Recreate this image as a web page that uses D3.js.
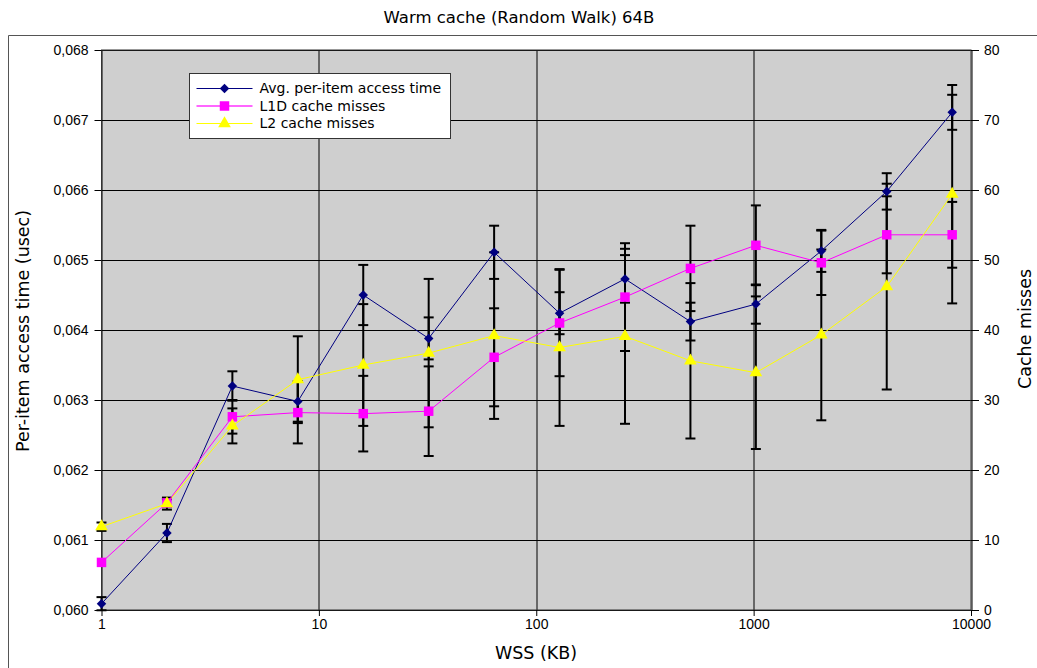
<!DOCTYPE html>
<html>
<head>
<meta charset="utf-8">
<script src="https://cdn.jsdelivr.net/npm/d3@7"></script>
<style>
  body { margin: 0; background: #fff; }
  svg { font-family: "DejaVu Sans", sans-serif; }
  .tick text { font-size: 14px; fill: #000; }
</style>
</head>
<body>
<div id="chart"></div>
<script>
// working set sizes (KB)
var wss = [1, 2, 4, 8, 16, 32, 64, 128, 256, 512, 1024, 2048, 4096, 8192];

// avg. per-item access time (usec), left axis
var avgTime = [0.06009, 0.0611, 0.0632, 0.06298, 0.0645, 0.06388, 0.06511,
  0.06424, 0.06473, 0.06412, 0.06437, 0.06513, 0.06598, 0.06711];
var avgTimeErr = [0.000094, 0.00013, 0.00021, 0.00029, 0.00043, 0.00030, 0.00038,
  0.00030, 0.00034, 0.00027, 0.00028, 0.00030, 0.00026, 0.00025];

// cache misses, right axis
var l1dMisses = [6.8, 15.3, 27.6, 28.2, 28.05, 28.4, 36.1, 41.0, 44.7, 48.8, 52.1, 49.6, 53.6, 53.6];
var l1dErr = [0, 0.5, 2.4, 4.4, 5.4, 6.4, 7.0, 7.6, 7.7, 6.1, 5.7, 4.6, 5.5, 4.7];
var l2Misses = [11.9, 15.2, 26.3, 32.9, 35.0, 36.7, 39.2, 37.5, 39.1, 35.6, 33.9, 39.3, 46.2, 59.4];
var l2Err = [0.6, 0.86, 2.5, 6.2, 8.7, 10.6, 11.9, 11.2, 12.5, 11.1, 10.9, 12.2, 14.7, 15.6];

// tick labels
var xTicks = [1, 10, 100, 1000, 10000];
var leftTicks = [0.060, 0.061, 0.062, 0.063, 0.064, 0.065, 0.066, 0.067, 0.068];
var rightTicks = [0, 10, 20, 30, 40, 50, 60, 70, 80];

var seriesNames = ["Avg. per-item access time", "L1D cache misses", "L2 cache misses"];

var svgWidth = 1037, svgHeight = 668;
var margin = { top: 50, right: 66, bottom: 58, left: 101.5 };
var width = svgWidth - margin.left - margin.right;
var height = svgHeight - margin.top - margin.bottom;

var svg = d3.select("#chart").append("svg")
  .attr("width", svgWidth)
  .attr("height", svgHeight);

// outer frame
svg.append("path")
  .attr("d", "M8.5," + svgHeight + "V35.5H" + svgWidth)
  .attr("fill", "none")
  .attr("stroke", "#555");

svg.append("text")
  .attr("x", 519)
  .attr("y", 23)
  .attr("text-anchor", "middle")
  .style("font-size", "16.5px")
  .text("Warm cache (Random Walk) 64B");

var g = svg.append("g")
  .attr("transform", `translate(${margin.left}, ${margin.top})`);

var x = d3.scaleLog().domain([1, 10000]).range([0, width]);
var yLeft = d3.scaleLinear().domain([0.060, 0.068]).range([height, 0]);
var yRight = d3.scaleLinear().domain([0, 80]).range([height, 0]);

g.append("rect")
  .attr("width", width)
  .attr("height", height)
  .attr("fill", "#cfcfcf");

// grid lines
g.append("g").selectAll("line")
  .data(leftTicks)
  .enter().append("line")
  .attr("x1", 0).attr("x2", width)
  .attr("y1", d => Math.round(yLeft(d)) + 0.5)
  .attr("y2", d => Math.round(yLeft(d)) + 0.5)
  .attr("stroke", "#000");

g.append("g").selectAll("line")
  .data(xTicks)
  .enter().append("line")
  .attr("x1", d => Math.round(x(d)) + 0.5)
  .attr("x2", d => Math.round(x(d)) + 0.5)
  .attr("y1", 0).attr("y2", height)
  .attr("stroke", "#000");

g.append("rect")
  .attr("width", width)
  .attr("height", height)
  .attr("fill", "none")
  .attr("stroke", "#333");

// axes
var fmt = d => d3.format(".3f")(d).replace(".", ",");

g.append("g")
  .call(d3.axisLeft(yLeft).tickValues(leftTicks).tickFormat(fmt).tickSize(7).tickSizeOuter(0).tickPadding(6))
  .call(a => a.select(".domain").remove());

g.append("g")
  .attr("transform", `translate(${width}, 0)`)
  .call(d3.axisRight(yRight).tickValues(rightTicks).tickSize(8).tickSizeOuter(0).tickPadding(5))
  .call(a => a.select(".domain").remove());

g.append("g")
  .attr("transform", `translate(0, ${height})`)
  .call(d3.axisBottom(x).tickValues(xTicks).tickFormat(d3.format("d")).tickSize(6).tickSizeOuter(0).tickPadding(3))
  .call(a => a.select(".domain").remove());

// axis titles
svg.append("text")
  .attr("x", 536)
  .attr("y", 659)
  .attr("text-anchor", "middle")
  .style("font-size", "17.5px")
  .text("WSS (KB)");

svg.append("text")
  .attr("transform", "rotate(-90)")
  .attr("x", -452)
  .attr("y", 29)
  .style("font-size", "17.5px")
  .text("Per-item access time (usec)");

svg.append("text")
  .attr("transform", "rotate(-90)")
  .attr("x", -389)
  .attr("y", 1031)
  .style("font-size", "17.5px")
  .text("Cache misses");

var diamond = d3.symbol().type(d3.symbolSquare).size(45);

var series = [
  { values: avgTime, err: avgTimeErr, y: yLeft, color: "#000080", symbol: diamond, rot: 45 },
  { values: l1dMisses, err: l1dErr, y: yRight, color: "#ff00ff", symbol: d3.symbol().type(d3.symbolSquare).size(90), rot: 0 },
  { values: l2Misses, err: l2Err, y: yRight, color: "#ffff00", symbol: d3.symbol().type(d3.symbolTriangle).size(70), rot: 0 }
];

// error bars
series.forEach(function (s) {
  var eb = g.append("g").attr("stroke", "#000").attr("stroke-width", 2);
  wss.forEach(function (w, i) {
    if (!s.err[i]) return;
    var cx = x(w);
    var y1 = s.y(s.values[i] - s.err[i]);
    var y2 = s.y(s.values[i] + s.err[i]);
    eb.append("line").attr("x1", cx).attr("x2", cx).attr("y1", y1).attr("y2", y2);
    eb.append("line").attr("x1", cx - 5).attr("x2", cx + 5).attr("y1", y1).attr("y2", y1);
    eb.append("line").attr("x1", cx - 5).attr("x2", cx + 5).attr("y1", y2).attr("y2", y2);
  });
});

// lines and markers
series.forEach(function (s) {
  var line = d3.line()
    .x((d, i) => x(wss[i]))
    .y(d => s.y(d));
  g.append("path")
    .datum(s.values)
    .attr("d", line)
    .attr("fill", "none")
    .attr("stroke", s.color)
    .attr("stroke-width", 1);
});

series.forEach(function (s) {
  g.append("g").selectAll("path")
    .data(s.values)
    .enter().append("path")
    .attr("d", s.symbol)
    .attr("transform", (d, i) => `translate(${x(wss[i])}, ${s.y(d)}) rotate(${s.rot})`)
    .attr("fill", s.color);
});

// legend
var legend = svg.append("g").attr("transform", "translate(189.5, 73.5)");
legend.append("rect")
  .attr("width", 261)
  .attr("height", 65)
  .attr("fill", "#fff")
  .attr("stroke", "#333");

series.forEach(function (s, i) {
  var ly = 15 + i * 17.5;
  legend.append("line")
    .attr("x1", 7).attr("x2", 63)
    .attr("y1", ly).attr("y2", ly)
    .attr("stroke", s.color)
    .attr("stroke-width", i === 1 ? 2 : 1)
    .attr("stroke-opacity", i === 1 ? 0.6 : 1);
  legend.append("path")
    .attr("d", s.symbol)
    .attr("transform", `translate(35, ${ly}) rotate(${s.rot})`)
    .attr("fill", s.color);
  legend.append("text")
    .attr("x", 70)
    .attr("y", ly)
    .attr("dy", "0.35em")
    .style("font-size", "14px")
    .text(seriesNames[i]);
});
</script>
</body>
</html>
